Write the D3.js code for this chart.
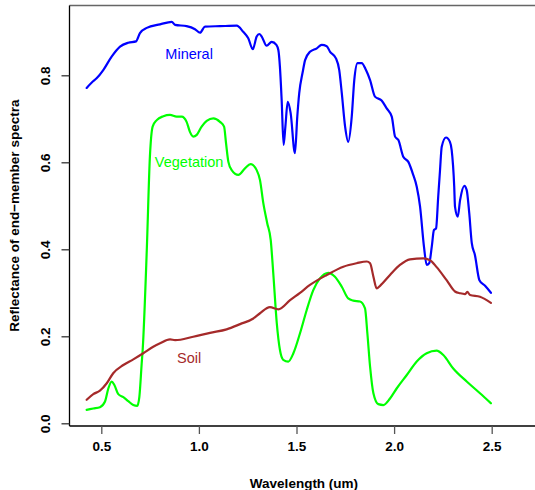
<!DOCTYPE html>
<html>
<head>
<meta charset="utf-8">
<script src="https://cdn.jsdelivr.net/npm/d3@7"></script>
<style>
html,body{margin:0;padding:0;background:#fff;}
svg{display:block;}
text{font-family:"Liberation Sans",Arial,sans-serif;}
</style>
</head>
<body>
<script>
// ---- data ----
const xTicks = [0.5, 1.0, 1.5, 2.0, 2.5];
const yTicks = [0.0, 0.2, 0.4, 0.6, 0.8];
const xTickLabels = ["0.5", "1.0", "1.5", "2.0", "2.5"];
const yTickLabels = ["0.0", "0.2", "0.4", "0.6", "0.8"];

const mineralWl = [0.425,0.45,0.476,0.510,0.553,0.596,0.638,0.678,0.698,0.733,0.801,0.861,0.878,0.937,0.980,1.006,1.031,1.108,1.194,1.227,1.253,1.276,1.296,1.309,1.322,1.347,1.373,1.397,1.407,1.415,1.424,1.434,1.443,1.455,1.470,1.492,1.504,1.514,1.532,1.544,1.569,1.604,1.629,1.655,1.672,1.702,1.719,1.732,1.749,1.765,1.783,1.796,1.813,1.834,1.856,1.877,1.902,1.936,1.962,1.988,2.005,2.022,2.047,2.073,2.098,2.116,2.133,2.153,2.167,2.180,2.193,2.204,2.215,2.226,2.235,2.244,2.266,2.286,2.295,2.308,2.312,2.326,2.338,2.360,2.372,2.385,2.398,2.414,2.437,2.466,2.496];
const mineralRef = [0.771,0.783,0.793,0.812,0.843,0.866,0.875,0.878,0.897,0.909,0.917,0.923,0.916,0.913,0.906,0.898,0.912,0.913,0.914,0.900,0.885,0.860,0.889,0.895,0.889,0.868,0.877,0.870,0.858,0.820,0.743,0.640,0.682,0.739,0.713,0.621,0.705,0.759,0.808,0.835,0.854,0.862,0.870,0.867,0.854,0.839,0.812,0.759,0.682,0.647,0.705,0.789,0.828,0.828,0.812,0.789,0.751,0.742,0.724,0.705,0.659,0.651,0.613,0.601,0.571,0.544,0.498,0.406,0.364,0.368,0.406,0.444,0.448,0.521,0.580,0.636,0.657,0.647,0.628,0.544,0.498,0.475,0.513,0.546,0.536,0.483,0.414,0.387,0.329,0.316,0.300];

const vegetationWl = [0.425,0.459,0.493,0.519,0.536,0.553,0.567,0.587,0.613,0.638,0.664,0.684,0.695,0.707,0.712,0.733,0.749,0.763,0.784,0.818,0.852,0.886,0.912,0.937,0.954,0.971,0.989,1.014,1.040,1.074,1.108,1.129,1.139,1.151,1.168,1.202,1.236,1.265,1.296,1.313,1.330,1.350,1.368,1.381,1.399,1.415,1.432,1.458,1.484,1.518,1.552,1.586,1.620,1.663,1.697,1.732,1.765,1.791,1.825,1.851,1.863,1.877,1.894,1.919,1.945,1.979,2.013,2.065,2.116,2.167,2.218,2.252,2.303,2.372,2.440,2.496];
const vegetationRef = [0.031,0.034,0.037,0.050,0.080,0.096,0.088,0.067,0.060,0.051,0.042,0.040,0.061,0.138,0.169,0.398,0.613,0.682,0.697,0.706,0.709,0.705,0.705,0.693,0.670,0.659,0.663,0.682,0.695,0.701,0.693,0.682,0.644,0.601,0.582,0.571,0.586,0.596,0.582,0.559,0.506,0.460,0.421,0.345,0.230,0.169,0.146,0.142,0.161,0.207,0.260,0.306,0.333,0.346,0.337,0.314,0.287,0.282,0.280,0.264,0.207,0.130,0.069,0.044,0.042,0.057,0.080,0.111,0.142,0.161,0.167,0.157,0.126,0.096,0.069,0.046];

const soilWl = [0.425,0.459,0.493,0.528,0.561,0.613,0.664,0.715,0.766,0.801,0.852,0.878,0.971,1.057,1.142,1.211,1.279,1.313,1.364,1.407,1.467,1.518,1.569,1.655,1.740,1.808,1.860,1.877,1.894,1.911,1.928,1.979,2.030,2.081,2.150,2.184,2.218,2.269,2.312,2.338,2.363,2.375,2.389,2.440,2.496];
const soilRef = [0.054,0.067,0.075,0.092,0.115,0.134,0.147,0.161,0.176,0.184,0.193,0.191,0.199,0.208,0.216,0.228,0.241,0.253,0.267,0.262,0.283,0.300,0.318,0.341,0.360,0.368,0.372,0.368,0.337,0.310,0.316,0.341,0.364,0.377,0.379,0.375,0.359,0.329,0.303,0.299,0.297,0.302,0.295,0.291,0.277];

const seriesNames = ["Mineral", "Vegetation", "Soil"];
const seriesColors = ["#0000FF", "#00FF00", "#A52A2A"];
const labelWl = [0.95, 0.95, 0.95];
const labelRef = [0.85, 0.60, 0.15];

// ---- chart ----
const W = 535, H = 490;
const plotL = 69.5, plotT = 5.5, plotB = 426;
const x = d3.scaleLinear().domain([0.5, 2.5]).range([101.3, 491.7]);
const y = d3.scaleLinear().domain([0, 0.8]).range([423.3, 75.3]);

const svg = d3.select("body").append("svg").attr("width", W).attr("height", H);

const series = [
  {wl: mineralWl, r: mineralRef},
  {wl: vegetationWl, r: vegetationRef},
  {wl: soilWl, r: soilRef}
];

const line = d3.line().x(d => x(d[0])).y(d => y(d[1])).curve(d3.curveMonotoneX);

series.forEach((s, i) => {
  const pts = s.wl.map((w, j) => [w, s.r[j]]);
  svg.append("path").attr("d", line(pts)).attr("fill", "none")
    .attr("stroke", seriesColors[i]).attr("stroke-width", 2.2)
    .attr("stroke-linejoin", "round").attr("stroke-linecap", "round");
  svg.append("text").attr("x", x(labelWl[i])).attr("y", y(labelRef[i]))
    .attr("text-anchor", "middle").attr("dominant-baseline", "central")
    .attr("font-size", "14.5px").attr("fill", seriesColors[i]).text(seriesNames[i]);
});

// frame lines
svg.append("line").attr("x1", plotL).attr("x2", W).attr("y1", plotT).attr("y2", plotT)
  .attr("stroke", "#666").attr("stroke-width", 1.5);
svg.append("line").attr("x1", plotL).attr("x2", W).attr("y1", plotB).attr("y2", plotB)
  .attr("stroke", "#000").attr("stroke-width", 1.3);
svg.append("line").attr("x1", plotL).attr("x2", plotL).attr("y1", plotT).attr("y2", plotB)
  .attr("stroke", "#000").attr("stroke-width", 1.3);

// x axis
const xAxis = d3.axisBottom(x).tickValues(xTicks).tickSize(8).tickPadding(10)
  .tickFormat((d, i) => xTickLabels[i]);
const gx = svg.append("g").attr("transform", `translate(0,${plotB})`).call(xAxis);
gx.select(".domain").remove();
gx.selectAll(".tick line").attr("stroke", "#555").attr("stroke-width", 1.3);
gx.selectAll(".tick text").attr("font-size", "13.5px").attr("font-weight", "bold")
  .attr("fill", "#000").attr("font-family", "Liberation Sans, Arial, sans-serif")
  .attr("y", 20).attr("dy", "0.35em");

// y axis
const yAxis = d3.axisLeft(y).tickValues(yTicks).tickSize(8)
  .tickFormat((d, i) => yTickLabels[i]);
const gy = svg.append("g").attr("transform", `translate(${plotL},0)`).call(yAxis);
gy.select(".domain").remove();
gy.selectAll(".tick line").attr("stroke", "#333").attr("stroke-width", 1.3);
gy.selectAll(".tick text").attr("font-size", "13.5px").attr("font-weight", "bold")
  .attr("fill", "#000").attr("font-family", "Liberation Sans, Arial, sans-serif")
  .attr("x", null).attr("dy", null)
  .attr("transform", "translate(-24,0) rotate(-90)")
  .attr("text-anchor", "middle").attr("dominant-baseline", "central");

// axis titles
svg.append("text").attr("x", 304).attr("y", 483).attr("text-anchor", "middle")
  .attr("dominant-baseline", "central")
  .attr("font-size", "13.5px").attr("font-weight", "bold").text("Wavelength (um)");
svg.append("text").attr("transform", "translate(14,215.7) rotate(-90)")
  .attr("text-anchor", "middle").attr("dominant-baseline", "central")
  .attr("font-size", "13.5px").attr("font-weight", "bold")
  .text("Reflectance of end\u2212member spectra");
</script>
</body>
</html>
